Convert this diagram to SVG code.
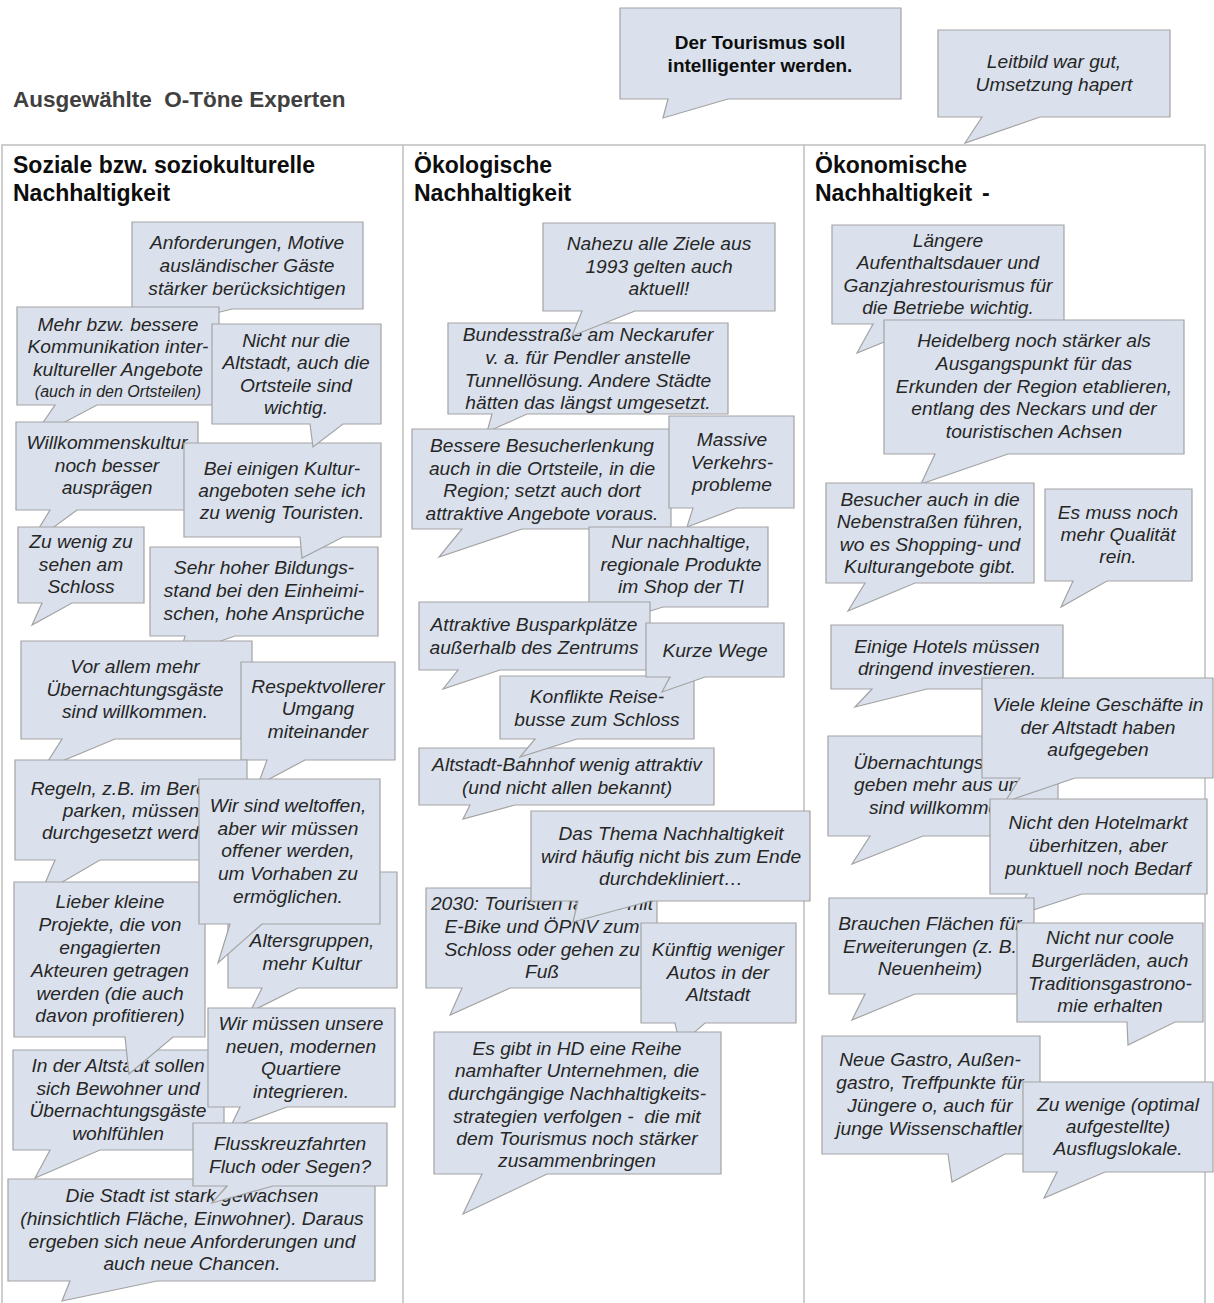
<svg xmlns="http://www.w3.org/2000/svg" width="1214" height="1303" viewBox="0 0 1214 1303">
<style>
.b{fill:#dae1ec;stroke:#a3a3a3;stroke-width:1.2}
.t{font-family:"Liberation Sans",Arial,sans-serif;font-size:19.2px;font-style:italic;fill:#262626;text-anchor:middle}
.hd{font-family:"Liberation Sans",Arial,sans-serif;font-size:23px;font-weight:bold;fill:#0d0d0d}
.grid{stroke:#bfbfbf;stroke-width:1.5;fill:none}
</style>
<rect width="1214" height="1303" fill="#ffffff"/>
<g id="table">
<path class="grid" d="M2 1303 V145 H1205 V1303 M403 145 V1303 M804 145 V1303"/>
</g>
<g id="title">
<text x="13" y="107" font-family="Liberation Sans,Arial,sans-serif" font-size="22.5" font-weight="bold" fill="#404040">Ausgewählte&#160; O-Töne Experten</text>
</g>
<g id="col-headers">
<text class="hd"><tspan x="13" y="173">Soziale bzw. soziokulturelle</tspan><tspan x="13" y="201">Nachhaltigkeit</tspan></text>
<text class="hd"><tspan x="414" y="173">Ökologische</tspan><tspan x="414" y="201">Nachhaltigkeit</tspan></text>
<text class="hd"><tspan x="815" y="173">Ökonomische</tspan><tspan x="815" y="201">Nachhaltigkeit</tspan><tspan x="982" y="201">-</tspan></text>
</g>
<g id="n-tourismus">
<path class="b" d="M620 8 H901 V99 H728 L663 118 L668 99 H620 Z"/>
<text class="t" style="font-style:normal;font-weight:bold;font-size:19px;fill:#0d0d0d"><tspan x="760" y="49">Der Tourismus soll</tspan><tspan x="760" y="72">intelligenter werden.</tspan></text>
</g>
<g id="n-leitbild">
<path class="b" d="M938 30 H1170 V117 H1040 L965 143 L982 117 H938 Z"/>
<text class="t"><tspan x="1054" y="68">Leitbild war gut,</tspan><tspan x="1054" y="91">Umsetzung hapert</tspan></text>
</g>

<g id="n-anforderungen">
<path class="b" d="M132 222 H363 V309 H232 L180 322 L190 309 H132 Z"/>
<text class="t"><tspan x="247" y="249">Anforderungen, Motive</tspan><tspan x="247" y="272">ausländischer Gäste</tspan><tspan x="247" y="295">stärker berücksichtigen</tspan></text>
</g>
<g id="n-mehr">
<path class="b" d="M17 307 H219 V405 H97 L31 440 L55 405 H17 Z"/>
<text class="t"><tspan x="118" y="331">Mehr bzw. bessere</tspan><tspan x="118" y="353">Kommunikation inter-</tspan><tspan x="118" y="376">kultureller Angebote</tspan><tspan x="118" y="397" style="font-size:16px">(auch in den Ortsteilen)</tspan></text>
</g>
<g id="n-willkommen">
<path class="b" d="M16 422 H198 V510 H77 L28 546 L50 510 H16 Z"/>
<text class="t"><tspan x="107" y="449">Willkommenskultur</tspan><tspan x="107" y="472">noch besser</tspan><tspan x="107" y="494">ausprägen</tspan></text>
</g>
<g id="n-zuwenig">
<path class="b" d="M18 527 H144 V603 H72 L32 625 L42 603 H18 Z"/>
<text class="t"><tspan x="81" y="548">Zu wenig zu</tspan><tspan x="81" y="571">sehen am</tspan><tspan x="81" y="593">Schloss</tspan></text>
</g>
<g id="n-bildung">
<path class="b" d="M150 547 H378 V636 H235 L180 655 L185 636 H150 Z"/>
<text class="t"><tspan x="264" y="574">Sehr hoher Bildungs-</tspan><tspan x="264" y="597">stand bei den Einheimi-</tspan><tspan x="264" y="620">schen, hohe Ansprüche</tspan></text>
</g>
<g id="n-kultur">
<path class="b" d="M184 443 H381 V537 H343 L302 558 L300 537 H184 Z"/>
<text class="t"><tspan x="282" y="475">Bei einigen Kultur-</tspan><tspan x="282" y="497">angeboten sehe ich</tspan><tspan x="282" y="519">zu wenig Touristen.</tspan></text>
</g>
<g id="n-ortsteile">
<path class="b" d="M212 324 H381 V424 H343 L313 447 L310 424 H212 Z"/>
<text class="t"><tspan x="296" y="347">Nicht nur die</tspan><tspan x="296" y="369">Altstadt, auch die</tspan><tspan x="296" y="392">Ortsteile sind</tspan><tspan x="296" y="414">wichtig.</tspan></text>
</g>
<g id="n-uebernachtung1">
<path class="b" d="M21 641 H252 V739 H115 L43 769 L62 739 H21 Z"/>
<text class="t"><tspan x="135" y="673">Vor allem mehr</tspan><tspan x="135" y="696">Übernachtungsgäste</tspan><tspan x="135" y="718">sind willkommen.</tspan></text>
</g>
<g id="n-respekt">
<path class="b" d="M241 662 H395 V760 H305 L258 785 L267 760 H241 Z"/>
<text class="t"><tspan x="318" y="693">Respektvollerer</tspan><tspan x="318" y="715">Umgang</tspan><tspan x="318" y="738">miteinander</tspan></text>
</g>
<g id="n-regeln">
<path class="b" d="M15 760 H247 V860 H100 L40 895 L55 860 H15 Z"/>
<text class="t"><tspan x="131" y="795">Regeln, z.B. im Bereich</tspan><tspan x="131" y="817">parken, müssen</tspan><tspan x="131" y="839">durchgesetzt werden</tspan></text>
</g>
<g id="n-bewohner">
<path class="b" d="M228 872 H397 V988 H298 L250 1012 L262 988 H228 Z"/>
<text class="t"><tspan x="312" y="924">Bewohner aller</tspan><tspan x="312" y="947">Altersgruppen,</tspan><tspan x="312" y="970">mehr Kultur</tspan></text>
</g>
<g id="n-altstadt">
<path class="b" d="M13 1050 H224 V1150 H100 L35 1178 L50 1150 H13 Z"/>
<text class="t"><tspan x="118" y="1072">In der Altstadt sollen</tspan><tspan x="118" y="1095">sich Bewohner und</tspan><tspan x="118" y="1117">Übernachtungsgäste</tspan><tspan x="118" y="1140">wohlfühlen</tspan></text>
</g>
<g id="n-projekte">
<path class="b" d="M14 882 H205 V1037 H173 L129 1074 L125 1037 H14 Z"/>
<text class="t"><tspan x="110" y="908">Lieber kleine</tspan><tspan x="110" y="931">Projekte, die von</tspan><tspan x="110" y="954">engagierten</tspan><tspan x="110" y="977">Akteuren getragen</tspan><tspan x="110" y="1000">werden (die auch</tspan><tspan x="110" y="1022">davon profitieren)</tspan></text>
</g>
<g id="n-weltoffen">
<path class="b" d="M199 779 H380 V924 H262 L218 963 L230 924 H199 Z"/>
<text class="t"><tspan x="288" y="812">Wir sind weltoffen,</tspan><tspan x="288" y="835">aber wir müssen</tspan><tspan x="288" y="857">offener werden,</tspan><tspan x="288" y="880">um Vorhaben zu</tspan><tspan x="288" y="903">ermöglichen.</tspan></text>
</g>
<g id="n-quartiere">
<path class="b" d="M208 1008 H395 V1107 H287 L230 1128 L240 1107 H208 Z"/>
<text class="t"><tspan x="301" y="1030">Wir müssen unsere</tspan><tspan x="301" y="1053">neuen, modernen</tspan><tspan x="301" y="1075">Quartiere</tspan><tspan x="301" y="1098">integrieren.</tspan></text>
</g>
<g id="n-stadt">
<path class="b" d="M8 1179 H375 V1281 H157 L62 1301 L70 1281 H8 Z"/>
<text class="t"><tspan x="192" y="1202">Die Stadt ist stark gewachsen</tspan><tspan x="192" y="1225">(hinsichtlich Fläche, Einwohner). Daraus</tspan><tspan x="192" y="1248">ergeben sich neue Anforderungen und</tspan><tspan x="192" y="1270">auch neue Chancen.</tspan></text>
</g>
<g id="n-fluss">
<path class="b" d="M193 1123 H387 V1186 H273 L212 1203 L227 1186 H193 Z"/>
<text class="t"><tspan x="290" y="1150">Flusskreuzfahrten</tspan><tspan x="290" y="1173">Fluch oder Segen?</tspan></text>
</g>

<g id="n-bundesstrasse">
<path class="b" d="M448 323 H728 V414 H527 L487 432 L492 414 H448 Z"/>
<text class="t"><tspan x="588" y="341">Bundesstraße am Neckarufer</tspan><tspan x="588" y="364">v. a. für Pendler anstelle</tspan><tspan x="588" y="387">Tunnellösung. Andere Städte</tspan><tspan x="588" y="409">hätten das längst umgesetzt.</tspan></text>
</g>
<g id="n-ziele">
<path class="b" d="M543 223 H775 V311 H635 L572 336 L582 311 H543 Z"/>
<text class="t"><tspan x="659" y="250">Nahezu alle Ziele aus</tspan><tspan x="659" y="273">1993 gelten auch</tspan><tspan x="659" y="295">aktuell!</tspan></text>
</g>
<g id="n-besucherlenkung">
<path class="b" d="M412 429 H671 V529 H522 L439 557 L462 529 H412 Z"/>
<text class="t"><tspan x="542" y="452">Bessere Besucherlenkung</tspan><tspan x="542" y="475">auch in die Ortsteile, in die</tspan><tspan x="542" y="497">Region; setzt auch dort</tspan><tspan x="542" y="520">attraktive Angebote voraus.</tspan></text>
</g>
<g id="n-verkehr">
<path class="b" d="M669 416 H794 V508 H737 L687 527 L693 508 H669 Z"/>
<text class="t"><tspan x="732" y="446">Massive</tspan><tspan x="732" y="469">Verkehrs-</tspan><tspan x="732" y="491">probleme</tspan></text>
</g>
<g id="n-produkte">
<path class="b" d="M589 527 H768 V607 H663 L605 625 L620 607 H589 Z"/>
<text class="t"><tspan x="681" y="548">Nur nachhaltige,</tspan><tspan x="681" y="571">regionale Produkte</tspan><tspan x="681" y="593">im Shop der TI</tspan></text>
</g>
<g id="n-busparkplaetze">
<path class="b" d="M419 602 H650 V670 H500 L443 689 L458 670 H419 Z"/>
<text class="t"><tspan x="534" y="631">Attraktive Busparkplätze</tspan><tspan x="534" y="654">außerhalb des Zentrums</tspan></text>
</g>
<g id="n-bahnhof">
<path class="b" d="M419 748 H714 V805 H515 L463 819 L470 805 H419 Z"/>
<text class="t"><tspan x="567" y="771">Altstadt-Bahnhof wenig attraktiv</tspan><tspan x="567" y="794">(und nicht allen bekannt)</tspan></text>
</g>
<g id="n-reisebusse">
<path class="b" d="M500 676 H694 V739 H577 L520 757 L535 739 H500 Z"/>
<text class="t"><tspan x="597" y="703">Konflikte Reise-</tspan><tspan x="597" y="726">busse zum Schloss</tspan></text>
</g>
<g id="n-kurzewege">
<path class="b" d="M646 623 H784 V677 H705 L662 692 L670 677 H646 Z"/>
<text class="t"><tspan x="715" y="657">Kurze Wege</tspan></text>
</g>
<g id="n-2030">
<path class="b" d="M426 888 H657 V988 H510 L450 1015 L462 988 H426 Z"/>
<text class="t"><tspan x="542" y="910">2030: Touristen fahren mit</tspan><tspan x="542" y="933">E-Bike und ÖPNV zum</tspan><tspan x="542" y="956">Schloss oder gehen zu</tspan><tspan x="542" y="978">Fuß</tspan></text>
</g>
<g id="n-thema">
<path class="b" d="M531 811 H810 V901 H650 L573 922 L578 901 H531 Z"/>
<text class="t"><tspan x="671" y="840">Das Thema Nachhaltigkeit</tspan><tspan x="671" y="863">wird häufig nicht bis zum Ende</tspan><tspan x="671" y="885">durchdekliniert…</tspan></text>
</g>
<g id="n-autos">
<path class="b" d="M641 923 H796 V1023 H705 L680 1045 L675 1023 H641 Z"/>
<text class="t"><tspan x="718" y="956">Künftig weniger</tspan><tspan x="718" y="979">Autos in der</tspan><tspan x="718" y="1001">Altstadt</tspan></text>
</g>
<g id="n-unternehmen">
<path class="b" d="M434 1032 H721 V1174 H547 L463 1214 L482 1174 H434 Z"/>
<text class="t"><tspan x="577" y="1055">Es gibt in HD eine Reihe</tspan><tspan x="577" y="1077">namhafter Unternehmen, die</tspan><tspan x="577" y="1100">durchgängige Nachhaltigkeits-</tspan><tspan x="577" y="1123">strategien verfolgen -&#160; die mit</tspan><tspan x="577" y="1145">dem Tourismus noch stärker</tspan><tspan x="577" y="1167">zusammenbringen</tspan></text>
</g>

<g id="n-aufenthalt">
<path class="b" d="M832 225 H1064 V324 H928 L857 353 L873 324 H832 Z"/>
<text class="t"><tspan x="948" y="247">Längere</tspan><tspan x="948" y="269">Aufenthaltsdauer und</tspan><tspan x="948" y="292">Ganzjahrestourismus für</tspan><tspan x="948" y="314">die Betriebe wichtig.</tspan></text>
</g>
<g id="n-heidelberg">
<path class="b" d="M884 320 H1184 V454 H1008 L921 484 L935 454 H884 Z"/>
<text class="t"><tspan x="1034" y="347">Heidelberg noch stärker als</tspan><tspan x="1034" y="370">Ausgangspunkt für das</tspan><tspan x="1034" y="393">Erkunden der Region etablieren,</tspan><tspan x="1034" y="415">entlang des Neckars und der</tspan><tspan x="1034" y="438">touristischen Achsen</tspan></text>
</g>
<g id="n-nebenstrassen">
<path class="b" d="M826 483 H1034 V583 H915 L848 611 L865 583 H826 Z"/>
<text class="t"><tspan x="930" y="506">Besucher auch in die</tspan><tspan x="930" y="528">Nebenstraßen führen,</tspan><tspan x="930" y="551">wo es Shopping- und</tspan><tspan x="930" y="573">Kulturangebote gibt.</tspan></text>
</g>
<g id="n-qualitaet">
<path class="b" d="M1045 489 H1192 V581 H1107 L1061 607 L1073 581 H1045 Z"/>
<text class="t"><tspan x="1118" y="519">Es muss noch</tspan><tspan x="1118" y="541">mehr Qualität</tspan><tspan x="1118" y="563">rein.</tspan></text>
</g>
<g id="n-hotels">
<path class="b" d="M831 625 H1063 V689 H927 L855 707 L872 689 H831 Z"/>
<text class="t"><tspan x="947" y="653">Einige Hotels müssen</tspan><tspan x="947" y="675">dringend investieren.</tspan></text>
</g>
<g id="n-uebernachtung2">
<path class="b" d="M828 736 H1058 V836 H923 L852 864 L870 836 H828 Z"/>
<text class="t"><tspan x="942" y="769">Übernachtungsgäste</tspan><tspan x="942" y="791">geben mehr aus und</tspan><tspan x="942" y="814">sind willkommen.</tspan></text>
</g>
<g id="n-geschaefte">
<path class="b" d="M982 678 H1213 V778 H1075 L1005 802 L1020 778 H982 Z"/>
<text class="t"><tspan x="1098" y="711">Viele kleine Geschäfte in</tspan><tspan x="1098" y="734">der Altstadt haben</tspan><tspan x="1098" y="756">aufgegeben</tspan></text>
</g>
<g id="n-hotelmarkt">
<path class="b" d="M990 799 H1207 V894 H1082 L1015 916 L1027 894 H990 Z"/>
<text class="t"><tspan x="1098" y="829">Nicht den Hotelmarkt</tspan><tspan x="1098" y="852">überhitzen, aber</tspan><tspan x="1098" y="875">punktuell noch Bedarf</tspan></text>
</g>
<g id="n-flaechen">
<path class="b" d="M829 898 H1034 V994 H915 L852 1020 L865 994 H829 Z"/>
<text class="t"><tspan x="930" y="930">Brauchen Flächen für</tspan><tspan x="930" y="953">Erweiterungen (z. B.</tspan><tspan x="930" y="975">Neuenheim)</tspan></text>
</g>
<g id="n-gastronomie">
<path class="b" d="M1017 923 H1203 V1022 H1175 L1128 1045 L1127 1022 H1017 Z"/>
<text class="t"><tspan x="1110" y="944">Nicht nur coole</tspan><tspan x="1110" y="967">Burgerläden, auch</tspan><tspan x="1110" y="990">Traditionsgastrono-</tspan><tspan x="1110" y="1012">mie erhalten</tspan></text>
</g>
<g id="n-neuegastro">
<path class="b" d="M822 1036 H1040 V1154 H1005 L952 1182 L948 1154 H822 Z"/>
<text class="t"><tspan x="930" y="1066">Neue Gastro, Außen-</tspan><tspan x="930" y="1089">gastro, Treffpunkte für</tspan><tspan x="930" y="1112">Jüngere o, auch für</tspan><tspan x="930" y="1135">junge Wissenschaftler</tspan></text>
</g>
<g id="n-ausflugslokale">
<path class="b" d="M1023 1082 H1213 V1172 H1105 L1044 1198 L1057 1172 H1023 Z"/>
<text class="t"><tspan x="1118" y="1111">Zu wenige (optimal</tspan><tspan x="1118" y="1133">aufgestellte)</tspan><tspan x="1118" y="1155">Ausflugslokale.</tspan></text>
</g>
<g id="connectors"></g>
</svg>
